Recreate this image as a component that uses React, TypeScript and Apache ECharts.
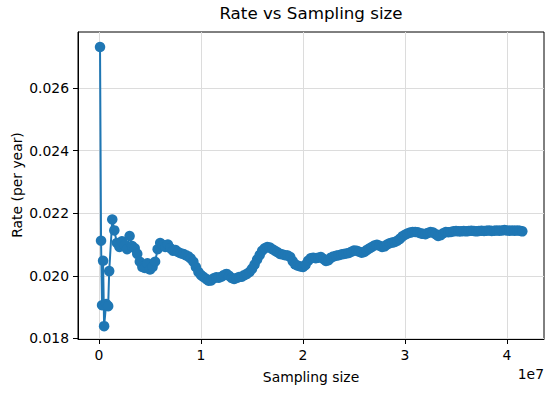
import React, { useEffect, useRef } from "react";
import * as echarts from "echarts";

// Sampling sizes in units of 1e5
const sampleSizesE5 = [
  1, 2, 3, 4, 5, 7, 9, 10, 13,
  15, 17.5, 20, 22.5, 25, 27.5, 30, 32.5, 35, 37.5, 40, 42.5, 45, 47.5, 50, 52.5, 55,
  57.5, 60, 62.5, 65, 67.5, 70, 72.5, 75, 77.5, 80, 82.5, 85, 87.5, 90, 92.5, 95, 97.5, 100,
  102.5, 105, 107.5, 110, 112.5, 115, 117.5, 120, 122.5, 125, 127.5, 130, 132.5, 135, 137.5, 140,
  142.5, 145, 147.5, 150, 152.5, 155, 157.5, 160, 162.5, 165, 167.5, 170, 172.5, 175, 177.5, 180,
  182.5, 185, 187.5, 190, 192.5, 195, 197.5, 200,
  202.5, 205, 207.5, 210, 212.5, 215, 217.5, 220, 222.5, 225, 227.5, 230, 232.5, 235, 237.5, 240,
  242.5, 245, 247.5, 250, 252.5, 255, 257.5, 260, 262.5, 265, 267.5, 270, 272.5, 275, 277.5, 280,
  282.5, 285, 287.5, 290, 292.5, 295, 297.5, 300,
  302.5, 305, 307.5, 310, 312.5, 315, 317.5, 320, 322.5, 325, 327.5, 330, 332.5, 335, 337.5, 340,
  342.5, 345, 347.5, 350, 352.5, 355, 357.5, 360, 362.5, 365, 367.5, 370, 372.5, 375, 377.5, 380,
  382.5, 385, 387.5, 390, 392.5, 395, 397.5, 400,
  402.5, 405, 407.5, 410, 412.5, 415,
];

const rates = [
  0.02731, 0.02112, 0.01906, 0.02048, 0.01839, 0.0191, 0.01903, 0.02015, 0.0218,
  0.02145, 0.02105, 0.02092, 0.0211, 0.02098, 0.02085, 0.02127, 0.02095, 0.02088, 0.0207, 0.02045, 0.02028, 0.02025, 0.0204, 0.0202, 0.02028, 0.02045,
  0.02085, 0.02105, 0.02098, 0.02092, 0.021, 0.02088, 0.0208, 0.02082, 0.02076, 0.02072, 0.0207, 0.02066, 0.02062, 0.02055, 0.02045, 0.02028, 0.02012, 0.02002,
  0.01996, 0.0199, 0.01984, 0.01985, 0.01992, 0.01995, 0.01994, 0.01997, 0.02002, 0.02006, 0.02, 0.01993, 0.0199, 0.01993, 0.01996, 0.01997,
  0.02002, 0.02006, 0.02012, 0.02022, 0.02036, 0.02052, 0.02066, 0.0208, 0.02088, 0.02092, 0.0209, 0.02085, 0.0208, 0.02075, 0.0207, 0.02068,
  0.02066, 0.02065, 0.0206, 0.02046, 0.02036, 0.02032, 0.0203, 0.02028,
  0.02035, 0.02048, 0.02056, 0.02058, 0.02056, 0.02058, 0.0206, 0.02054, 0.02047, 0.0205, 0.02058, 0.02062, 0.02064, 0.02066, 0.02068, 0.0207,
  0.02071, 0.02073, 0.02077, 0.02081, 0.0208, 0.02077, 0.02074, 0.02076, 0.02082, 0.02087, 0.02092, 0.02097, 0.02099, 0.02096, 0.02092, 0.02094,
  0.021, 0.02104, 0.02106, 0.02108, 0.02112, 0.02118, 0.02126, 0.02131,
  0.02135, 0.02138, 0.0214, 0.0214, 0.02139, 0.02136, 0.02134, 0.02133, 0.02137, 0.0214, 0.02138, 0.02133, 0.02127, 0.0213, 0.02136, 0.0214,
  0.02139, 0.0214, 0.02142, 0.02143, 0.02142, 0.02142, 0.02143, 0.02142, 0.02143, 0.02144, 0.02143, 0.02142, 0.02143, 0.02144, 0.02143, 0.02144,
  0.02145, 0.02143, 0.02144, 0.02145, 0.02144, 0.02145, 0.02146, 0.02145,
  0.02144, 0.02145, 0.02144, 0.02145, 0.02144, 0.02142,
];

const xTicks = [0, 1e7, 2e7, 3e7, 4e7];
const yTicks = [0.018, 0.02, 0.022, 0.024, 0.026];

const TITLE = "Rate vs Sampling size";
const X_NAME = "Sampling size";
const Y_NAME = "Rate (per year)";
const OFFSET_TEXT = "1e7";

export default function App() {
  const ref = useRef<HTMLDivElement>(null);
  useEffect(() => {
    if (!ref.current) return;
    const chart = echarts.init(ref.current, null, { renderer: "svg" });
    const font = "DejaVu Sans";
    const data = sampleSizesE5.map((s, i) => [s * 1e5, rates[i]]);
    chart.setOption({
      animation: false,
      backgroundColor: "#ffffff",
      textStyle: { fontFamily: font },
      grid: {
        left: 78,
        right: 9,
        top: 32,
        bottom: 54,
        show: true,
        borderColor: "#000000",
        borderWidth: 1,
        backgroundColor: "transparent",
      },
      xAxis: {
        type: "value",
        min: -2059000,
        max: 43627000,
        axisLine: { show: true, onZero: false, lineStyle: { color: "#000", width: 1 } },
        axisTick: { show: true, length: 5, lineStyle: { color: "#000", width: 1 }, customValues: xTicks },
        axisLabel: {
          customValues: xTicks,
          color: "#000",
          fontSize: 13.9,
          fontFamily: font,
          margin: 9,
          formatter: (v: number) => String(Math.round(v / 1e7)),
        },
        splitLine: { show: true, lineStyle: { color: "#dcdcdc", width: 1 } },
      },
      yAxis: {
        type: "value",
        min: 0.01798,
        max: 0.02779,
        axisLine: { show: true, onZero: false, lineStyle: { color: "#000", width: 1 } },
        axisTick: { show: true, length: 5, lineStyle: { color: "#000", width: 1 }, customValues: yTicks },
        axisLabel: {
          customValues: yTicks,
          color: "#000",
          fontSize: 13.9,
          fontFamily: font,
          margin: 9,
          formatter: (v: number) => v.toFixed(3),
        },
        splitLine: { show: true, lineStyle: { color: "#dcdcdc", width: 1 } },
      },
      series: [
        {
          type: "line",
          data,
          symbol: "circle",
          symbolSize: 10.5,
          showAllSymbol: true,
          lineStyle: { color: "#1f77b4", width: 2 },
          itemStyle: { color: "#1f77b4" },
          emphasis: { disabled: true },
        },
      ],
      graphic: [
        {
          type: "text",
          x: 311,
          y: 13,
          style: {
            text: TITLE,
            fontSize: 16.7,
            fontFamily: font,
            fill: "#000",
            align: "center",
            verticalAlign: "middle",
          },
        },
        {
          type: "text",
          x: 311,
          y: 377,
          style: {
            text: X_NAME,
            fontSize: 13.9,
            fontFamily: font,
            fill: "#000",
            align: "center",
            verticalAlign: "middle",
          },
        },
        {
          type: "text",
          x: 544,
          y: 374,
          style: {
            text: OFFSET_TEXT,
            fontSize: 13.9,
            fontFamily: font,
            fill: "#000",
            align: "right",
            verticalAlign: "middle",
          },
        },
        {
          type: "text",
          x: 17,
          y: 185,
          rotation: Math.PI / 2,
          style: {
            text: Y_NAME,
            fontSize: 13.9,
            fontFamily: font,
            fill: "#000",
            align: "center",
            verticalAlign: "middle",
          },
        },
      ],
    });
    return () => chart.dispose();
  }, []);
  return (
    <div
      ref={ref}
      style={{ position: "absolute", left: 0, top: 0, width: 553, height: 393 }}
    />
  );
}
